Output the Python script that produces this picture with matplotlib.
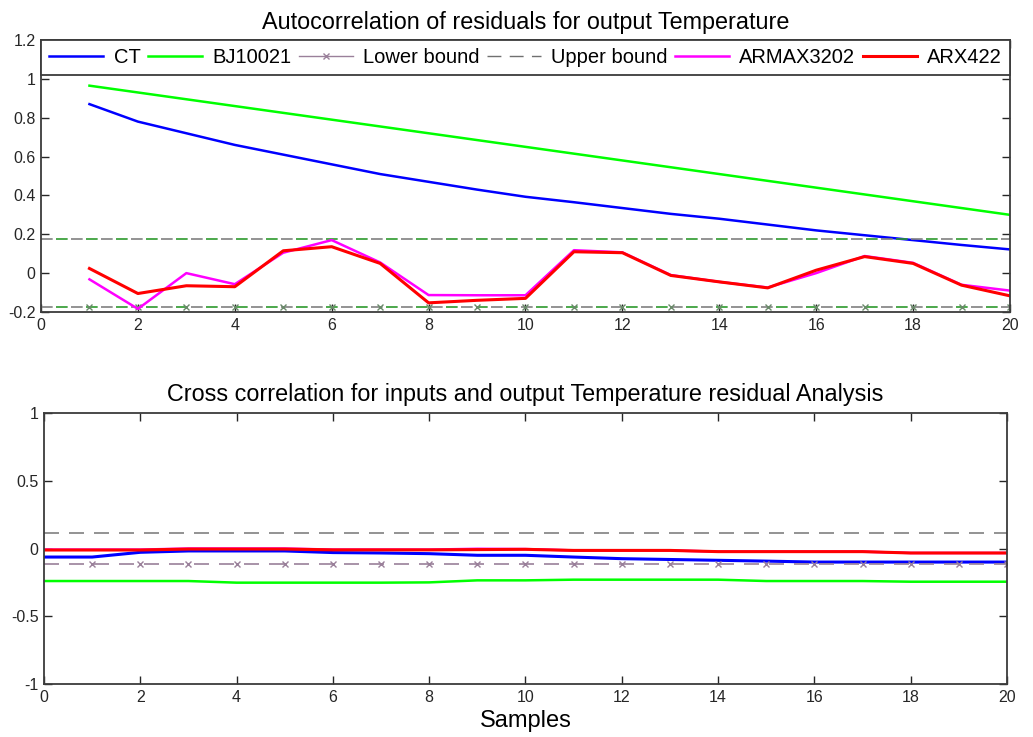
import matplotlib.pyplot as plt
from matplotlib.lines import Line2D
from matplotlib.ticker import FormatStrFormatter
import numpy as np

plt.rcParams['font.family'] = ['Liberation Sans', 'DejaVu Sans']

# Autocorrelation of residuals (lags 1..20)
lags = np.arange(1, 21)
ct_auto = [0.87, 0.78, 0.72, 0.66, 0.61, 0.56, 0.51, 0.47, 0.43, 0.393,
           0.365, 0.335, 0.305, 0.28, 0.25, 0.22, 0.195, 0.17, 0.145, 0.122]
bj_auto = [0.965, 0.93, 0.895, 0.86, 0.825, 0.79, 0.755, 0.72, 0.685, 0.65,
           0.615, 0.58, 0.545, 0.51, 0.475, 0.44, 0.405, 0.37, 0.335, 0.30]
armax_auto = [-0.032, -0.184, 0.0, -0.057, 0.105, 0.17, 0.055, -0.113, -0.114, -0.114,
              0.118, 0.107, -0.01, -0.045, -0.074, 0.0, 0.088, 0.053, -0.06, -0.09]
arx_auto = [0.024, -0.105, -0.065, -0.07, 0.115, 0.136, 0.05, -0.153, -0.14, -0.13,
            0.11, 0.105, -0.012, -0.045, -0.076, 0.015, 0.085, 0.05, -0.062, -0.117]
auto_bound = 0.175

# Cross correlation (lags 0..20)
lags_x = np.arange(0, 21)
ct_cross = [-0.063, -0.063, -0.028, -0.018, -0.018, -0.018, -0.03, -0.033, -0.038, -0.05,
            -0.05, -0.063, -0.075, -0.081, -0.087, -0.093, -0.1, -0.1, -0.1, -0.1, -0.1]
bj_cross = [-0.24, -0.24, -0.24, -0.24, -0.252, -0.252, -0.252, -0.252, -0.25, -0.235,
            -0.235, -0.23, -0.23, -0.23, -0.23, -0.24, -0.24, -0.24, -0.245, -0.245, -0.245]
armax_cross = [-0.008, -0.008, -0.008, 0.0, 0.0, 0.0, -0.008, -0.008, -0.008, -0.002,
               -0.004, -0.014, -0.014, -0.014, -0.023, -0.023, -0.023, -0.023, -0.033, -0.033, -0.033]
arx_cross = [-0.011, -0.011, -0.011, -0.004, -0.004, -0.004, -0.01, -0.01, -0.01, -0.008,
             -0.006, -0.014, -0.014, -0.014, -0.023, -0.023, -0.023, -0.023, -0.033, -0.033, -0.033]
cross_bound = 0.117

labels = ["CT", "BJ10021", "Lower bound", "Upper bound", "ARMAX3202", "ARX422"]

fig = plt.figure(figsize=(10.33, 7.37), dpi=100)
ax1 = fig.add_axes([0.0397, 0.5767, 0.938, 0.369])
ax2 = fig.add_axes([0.0426, 0.0719, 0.9322, 0.3677])

bx = np.arange(0, 21)

# top plot - bounds drawn as gray + green dashes, alternating
ax1.plot(lags, bj_auto, color='#00ff00', lw=1.8)
ax1.plot(lags, ct_auto, color='#0000ff', lw=1.8)
for s in (1, -1):
    ax1.plot(bx, [s * auto_bound] * len(bx), color='#808080', lw=1.2, ls=(0, (7, 11)))
    ax1.plot(bx, [s * auto_bound] * len(bx), color='#2e9a2e', lw=1.2, ls=(9, (7, 11)),
             marker='x' if s < 0 else None, ms=5, mec='#6a8a6a', markevery=list(range(1, 21)))
ax1.plot(lags, armax_auto, color='#ff00ff', lw=1.8)
ax1.plot(lags, arx_auto, color='#ff0000', lw=2.2)
ax1.set_xlim(0, 20)
ax1.set_ylim(-0.2, 1.2)
ax1.set_xticks(np.arange(0, 21, 2))
ax1.set_yticks(np.arange(-0.2, 1.21, 0.2))
ax1.yaxis.set_major_formatter(FormatStrFormatter('%g'))
ax1.set_title("Autocorrelation of residuals for output Temperature", fontsize=16.8, pad=8)

# bottom plot
ax2.plot(lags_x, bj_cross, color='#00ff00', lw=1.8)
ax2.plot(lags_x, ct_cross, color='#0000ff', lw=2.2)
ax2.plot(bx, [cross_bound] * len(bx), color='#808080', lw=1.2, ls=(0, (9, 6)))
ax2.plot(lags_x, armax_cross, color='#ff00ff', lw=1.8)
ax2.plot(lags_x, arx_cross, color='#ff0000', lw=2.2)
ax2.plot(bx, [-cross_bound] * len(bx), color='#9a809a', lw=1.2, ls=(0, (9, 6)),
         marker='x', ms=5, markevery=list(range(1, 21)))
ax2.set_xlim(0, 20)
ax2.set_ylim(-1, 1)
ax2.set_xticks(np.arange(0, 21, 2))
ax2.set_yticks([-1, -0.5, 0, 0.5, 1])
ax2.yaxis.set_major_formatter(FormatStrFormatter('%g'))
ax2.set_title("Cross correlation for inputs and output Temperature residual Analysis",
              fontsize=16.8, pad=9)
ax2.set_xlabel("Samples", fontsize=17, labelpad=4)

for ax in (ax1, ax2):
    ax.tick_params(direction='in', length=6, width=1, top=True, right=True,
                   labelsize=11.5, colors='#262626', pad=4)
    for sp in ax.spines.values():
        sp.set_color('#3c3c3c')
        sp.set_linewidth(1.3)

handles = [
    Line2D([], [], color='#0000ff', lw=1.8),
    Line2D([], [], color='#00ff00', lw=1.8),
    Line2D([], [], color='#9a809a', lw=1, marker='x', ms=5),
    Line2D([], [], color='#707070', lw=1, ls=(0, (10, 6))),
    Line2D([], [], color='#ff00ff', lw=1.8),
    Line2D([], [], color='#ff0000', lw=2.2),
]
leg = ax1.legend(handles, labels, ncol=6, loc='upper left', bbox_to_anchor=(0, 1, 1, 0),
                 mode='expand', fontsize=14.5, handlelength=2.7, handletextpad=0.5,
                 columnspacing=0.8, borderaxespad=0, fancybox=False, framealpha=1,
                 borderpad=0.4)
leg.get_frame().set_edgecolor('#3c3c3c')
leg.get_frame().set_linewidth(1.3)

fig.savefig("out.png", dpi=100)
